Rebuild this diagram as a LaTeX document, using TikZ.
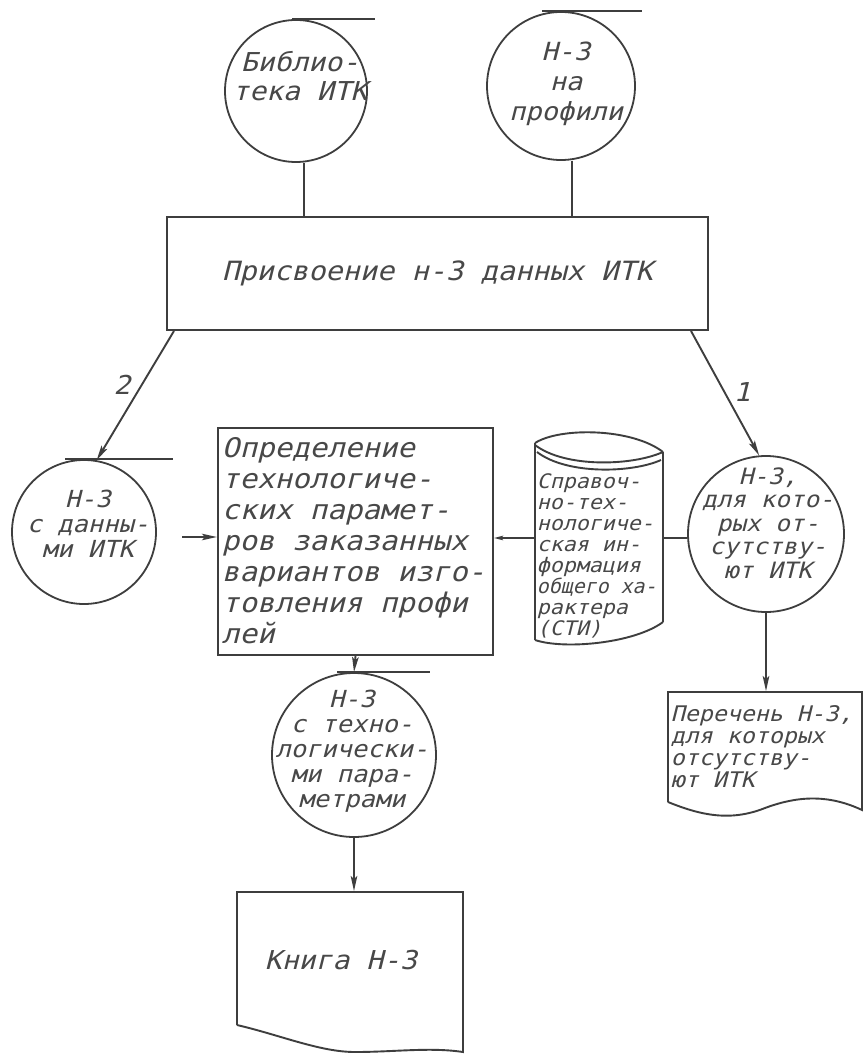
\documentclass[tikz,border=0pt]{standalone}
\usepackage{graphicx}
\usepackage{fontspec}
\newfontfamily\gost{DejaVu Sans Mono}[FakeSlant=0.25,FakeStretch=1.08]
\usetikzlibrary{arrows.meta}
\definecolor{ink}{RGB}{62,62,62}
\definecolor{inkt}{RGB}{72,72,72}
\newcommand\fsz[2]{\gost\fontsize{#1}{#2}\selectfont}
\begin{document}
\begin{tikzpicture}[x=1pt,y=-1pt,line width=1.9pt,color=ink,
  circ/.style={circle,draw,line width=1.8pt,inner sep=0pt,minimum size=#1},
  frame/.style={rectangle,draw,line width=2.1pt,inner sep=0pt},
  anchorbox/.style={rectangle,inner sep=0pt},
  txt/.style={align=center,text=inkt,inner sep=0pt},
  txtl/.style={align=left,text=inkt,inner sep=0pt,anchor=west},
  arr/.style={-{Stealth[length=15pt,width=6.5pt,inset=3pt]}},
  arrs/.style={-{Stealth[length=9pt,width=4.5pt,inset=2pt]}}]
\fill[white] (0,0) rectangle (864,1056);
\useasboundingbox (0,0) rectangle (864,1056);

% circles
\node[circ=142pt] (A) at (296,91) {};
\node[circ=148pt] (B) at (561,86) {};
\node[circ=144pt] (C) at (84,532) {};
\node[circ=156pt] (F) at (766,534) {};
\node[circ=164pt] (H) at (354,755) {};

% tangent lines on top of circles
\draw ([xshift=-4pt]A.north) -- ++(83,0);
\draw ([xshift=-19pt]B.north) -- ++(100,0);
\draw ([xshift=-19pt]C.north) -- ++(108,0);
\draw ([xshift=-17pt]H.north) -- ++(93,0);

% circle texts
\node[txt,font=\fsz{26}{29}] (At) at (300,76) {Библио-\\тека ИТК};
\node[txt,font=\fsz{25}{30}] (Bt) at (566,84) {Н-3\\на\\профили};
\node[txt,font=\fsz{23.5}{25}] (Ct) at (88,524) {Н-3\\с данны-\\ми ИТК};
\node[txt,font=\fsz{22.5}{23.5}] (Ft) at (768,523) {Н-3,\\для кото-\\рых от-\\сутству-\\ют ИТК};
\node[txt,font=\fsz{23.5}{25}] (Ht) at (352,751) {Н-3\\с техно-\\логически-\\ми пара-\\метрами};

% main box
\node[frame,minimum width=541pt,minimum height=113pt,font=\fsz{26.5}{28},text=inkt] (M) at (437.5,273.5) {Присвоение н-3 данных ИТК};

% box D
\node[frame,minimum width=275pt,minimum height=227pt] (D) at (355.5,541.5) {};
\node[txtl,font=\fsz{27}{31}] (Dt) at (221,541) {Определение\\технологиче-\\ских парамет-\\ров заказанных\\вариантов изго-\\товления профи\\лей};

% cylinder E
\node[anchorbox,minimum width=128pt,minimum height=190pt] (E) at (599,538) {};
\draw (535,443) .. controls (560,427) and (632,428) .. (663,452);
\draw (535,445) .. controls (565,468) and (632,466) .. (663,452);
\draw (537,452) .. controls (567,475) and (632,473) .. (661,460);
\draw (535,443) -- (535,640);
\draw (663,452) -- (663,622);
\draw (535,640) .. controls (565,650) and (635,643) .. (663,622);
\node[txtl,font=\fsz{20}{21}] (Et) at (536,556) {Справоч-\\но-тех-\\нологиче-\\ская ин-\\формация\\\scalebox{0.92}[1]{общего ха-}\\рактера\\(СТИ)};

% document G
\node[anchorbox,minimum width=194pt,minimum height=108pt] (G) at (765,746) {};
\draw (668,802) -- (668,692) -- (862,692) -- (862,810) .. controls (830,795) and (800,795) .. (765,808) .. controls (730,822) and (700,815) .. (668,802);
\node[txtl,font=\fsz{21.5}{22}] (Gt) at (670,747) {Перечень Н-3,\\для которых\\отсутству-\\ют ИТК};

% book I
\node[anchorbox,minimum width=226pt,minimum height=132pt] (I) at (350,958) {};
\draw (237,1025) -- (237,892) -- (463,892) -- (463,1052) .. controls (430,1047) and (395,1052) .. (355,1052) .. controls (320,1052) and (280,1035) .. (237,1025);
\node[txt,font=\fsz{26}{28}] (It) at (341,960) {Книга Н-3};

% connectors
\draw ([xshift=8pt]A.south) -- ([xshift=8pt]A.south |- M.north);
\draw ([xshift=11pt]B.south) -- ([xshift=11pt]B.south |- M.north);
\draw[arr] ([xshift=8pt]M.south west) -- (C.80);
\draw[arr] ([xshift=-18pt]M.south east) -- (F.95);
\node[txt,font=\fsz{26}{28}] (l2) at (122,385) {2};
\node[txt,font=\fsz{26}{28}] (l1) at (742,392) {1};
\coordinate (c2d) at (182,537);
\draw[arr] (c2d) -- (c2d -| D.west);
\draw[arrs] (E.west) -- (E.west -| D.east);
\draw (E.east) -- (E.east -| F.west);
\draw[arr] (D.south) -- (H.north);
\draw[arr] (F.south) -- (F.south |- G.north);
\draw[arr] (H.south) -- (H.south |- I.north);
\end{tikzpicture}
\end{document}
